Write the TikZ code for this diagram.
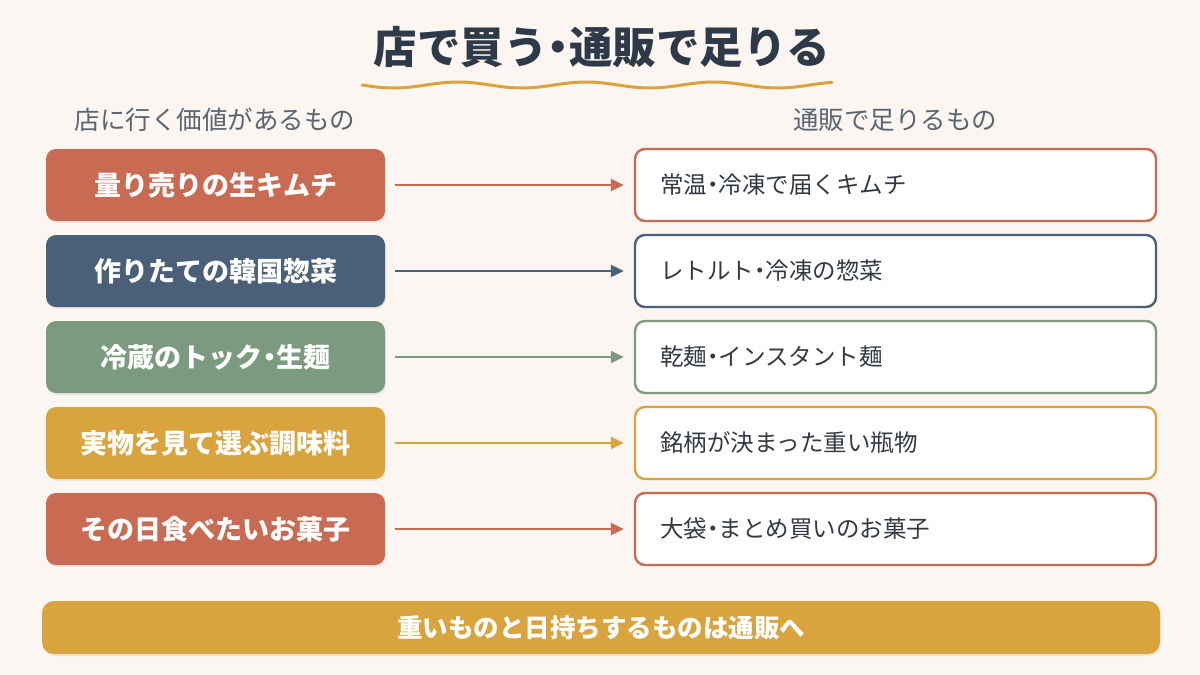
\documentclass[tikz,border=0pt]{standalone}
\usepackage{fontspec}
\newfontfamily\jp{Noto Sans CJK JP}
\usetikzlibrary{shadows,arrows.meta}
\newcommand\dt{\makebox[0.5em][c]{・}}
\definecolor{bg}{HTML}{FBF6F2}
\definecolor{ink}{HTML}{2E3A48}
\definecolor{sub}{HTML}{5A6570}
\definecolor{cRed}{HTML}{C96A52}
\definecolor{cBlue}{HTML}{4A5F78}
\definecolor{cGreen}{HTML}{7C9A80}
\definecolor{cGold}{HTML}{D9A43E}
\definecolor{txt}{HTML}{333A42}
\tikzset{
  leftbox/.style={rounded corners=10pt, minimum width=339pt, minimum height=72pt, inner sep=0pt,
    text=white, font=\jp\bfseries\fontsize{27}{32}\selectfont,
    drop shadow={opacity=0.12, shadow xshift=1pt, shadow yshift=-2pt}},
  rightbox/.style={rounded corners=10pt, minimum width=521pt, minimum height=72pt, inner sep=0pt,
    fill=white, line width=2.4pt},
  righttext/.style={anchor=west, text=txt, font=\jp\fontsize{23.5}{28}\selectfont, inner sep=0pt},
  arr/.style={line width=2.2pt, -{Triangle[length=13pt,width=12pt]}, shorten >=10pt, shorten <=10pt},
  subhead/.style={text=sub, font=\jp\fontsize{25.5}{30}\selectfont},
}
\begin{document}
\begin{tikzpicture}[x=1pt,y=-1pt]
\fill[bg] (0,0) rectangle (1200,675);
\useasboundingbox (0,0) rectangle (1200,675);
\node[text=ink, font=\jp\bfseries\fontsize{43.5}{50}\selectfont] (title) at (602,47) {店で買う\dt 通販で足りる};
\draw[cGold, line width=3pt, line cap=round] plot[domain=362:832, samples=120] (\x, {85+3*sin((\x-362)*2.8125)});
\node[subhead] (lh) at (215,120) {店に行く価値があるもの};
\node[subhead] (rh) at (895,120) {通販で足りるもの};
\foreach \i/\c/\l/\r in {0/cRed/量り売りの生キムチ/常温\dt 冷凍で届くキムチ,
  1/cBlue/作りたての韓国惣菜/レトルト\dt 冷凍の惣菜,
  2/cGreen/冷蔵のトック\dt 生麺/乾麺\dt インスタント麺,
  3/cGold/実物を見て選ぶ調味料/銘柄が決まった重い瓶物,
  4/cRed/その日食べたいお菓子/大袋\dt まとめ買いのお菓子}{
  \node[leftbox, fill=\c] (L\i) at (215.5,{185+86*\i}) {\l};
  \node[rightbox, draw=\c] (R\i) at (895.5,{185+86*\i}) {};
  \node[righttext] (T\i) at (660,{185+86*\i}) {\r};
  \draw[arr, \c] (L\i.east) -- (R\i.west);
}
\node[rounded corners=12pt, fill=cGold, minimum width=1118pt, minimum height=53pt, inner sep=0pt,
  text=white, font=\jp\bfseries\fontsize{25.5}{30}\selectfont,
  drop shadow={opacity=0.12, shadow xshift=1pt, shadow yshift=-2pt}] (banner) at (601,627.5) {重いものと日持ちするものは通販へ};
\end{tikzpicture}
\end{document}
